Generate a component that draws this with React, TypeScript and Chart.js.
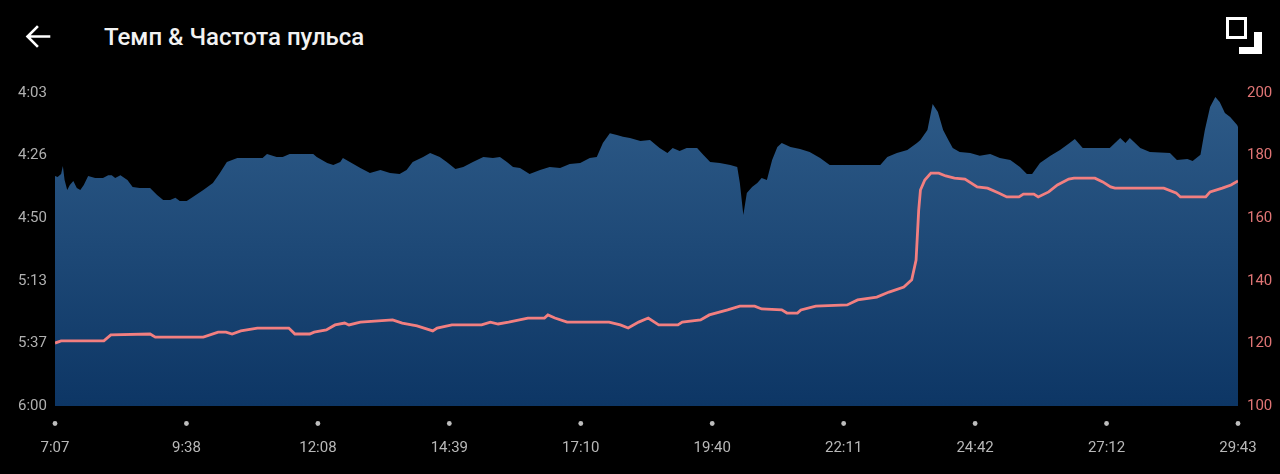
import React, { useEffect, useRef } from "react";
import { Chart, registerables } from "chart.js";

Chart.register(...registerables);

// Elapsed time (seconds) axis
const X_MIN = 427;
const X_MAX = 1783;
const X_TICK_VALUES = [427, 577.67, 728.33, 879, 1029.67, 1180.33, 1331, 1481.67, 1632.33, 1783];
const X_TICK_LABELS = ["7:07", "9:38", "12:08", "14:39", "17:10", "19:40", "22:11", "24:42", "27:12", "29:43"];

// Pace axis (seconds per km), reversed
const PACE_MIN = 243;
const PACE_MAX = 360;
const PACE_TICK_VALUES = [243, 266.4, 289.8, 313.2, 336.6, 360];
const PACE_TICK_LABELS = ["4:03", "4:26", "4:50", "5:13", "5:37", "6:00"];

// Heart-rate axis
const HR_MIN = 100;
const HR_MAX = 200;
const HR_TICK_VALUES = [100, 120, 140, 160, 180, 200];

// Pace series
const PACE_T = [
  427, 430, 434, 436, 438, 441, 444, 448, 452, 456, 460, 465, 473, 482, 488, 492, 496, 502, 510, 516,
  524, 536, 544, 551, 559, 565, 570, 578, 585, 597, 608, 616, 624, 636, 665, 670, 681, 688, 696, 723,
  727, 739, 746, 754, 757, 765, 777, 788, 800, 811, 822, 830, 837, 849, 857, 868, 876, 886, 895, 906,
  918, 929, 937, 945, 952, 960, 971, 983, 994, 1006, 1017, 1029, 1040, 1048, 1055, 1063, 1071, 1078, 1086, 1098,
  1109, 1120, 1129, 1135, 1143, 1151, 1163, 1170, 1178, 1189, 1201, 1209, 1212, 1216, 1220, 1226, 1232, 1237, 1243, 1249,
  1255, 1260, 1270, 1281, 1292, 1304, 1315, 1373, 1381, 1392, 1404, 1415, 1419, 1427, 1433, 1439, 1445, 1451, 1456, 1464,
  1476, 1487, 1499, 1510, 1522, 1533, 1541, 1547, 1556, 1568, 1579, 1590, 1596, 1605, 1636, 1648, 1654, 1659, 1671, 1682,
  1705, 1713, 1725, 1731, 1740, 1745, 1751, 1757, 1762, 1768, 1774, 1782, 1783,
];
const PACE_V = [
  274.0, 274.4, 273.3, 270.3, 275.5, 279.3, 277.4, 275.9, 278.5, 279.3, 277.4, 274.0, 274.8, 274.8, 273.7, 273.7, 274.8, 273.7, 275.5, 278.1,
  278.5, 278.5, 281.1, 283.0, 283.0, 282.2, 283.4, 283.4, 281.9, 279.3, 276.6, 272.9, 268.8, 267.3, 267.3, 265.8, 266.9, 266.9, 265.8, 265.8,
  266.9, 269.2, 269.9, 268.8, 267.3, 268.8, 271.0, 272.9, 271.8, 272.9, 273.3, 271.8, 268.8, 266.9, 265.4, 266.9, 268.8, 271.4, 270.7, 268.8,
  266.9, 267.3, 266.9, 268.8, 270.7, 271.0, 273.3, 271.8, 270.7, 271.0, 269.5, 269.2, 267.3, 266.9, 261.7, 258.0, 258.7, 259.4, 259.8, 260.9,
  260.6, 263.6, 265.4, 263.6, 264.7, 263.6, 263.6, 266.1, 268.8, 269.2, 269.9, 270.7, 276.6, 288.6, 280.4, 278.1, 276.6, 274.8, 275.5, 268.0,
  263.2, 261.7, 263.2, 263.9, 265.1, 267.3, 269.9, 269.9, 266.9, 265.4, 264.3, 261.7, 260.6, 256.8, 247.1, 250.1, 256.8, 260.6, 263.6, 265.1,
  265.4, 266.5, 265.8, 267.3, 268.0, 270.7, 273.3, 273.3, 269.2, 266.5, 264.3, 261.7, 260.2, 263.6, 263.6, 259.8, 261.7, 259.8, 263.6, 265.1,
  265.4, 268.0, 267.7, 268.4, 266.1, 256.8, 248.2, 244.5, 246.4, 250.5, 252.0, 255.0, 255.7,
];

// Heart-rate series
const HR_T = [
  427, 434, 483, 491, 536, 542, 597, 614, 623, 630, 640, 659, 695, 702, 719, 724, 738, 748, 759, 764,
  777, 814, 825, 842, 860, 865, 882, 916, 926, 935, 947, 969, 988, 992, 1000, 1014, 1062, 1075, 1084, 1096,
  1107, 1119, 1141, 1146, 1167, 1177, 1198, 1212, 1229, 1237, 1260, 1266, 1278, 1282, 1299, 1335, 1347, 1369, 1383, 1400,
  1409, 1414, 1417, 1419, 1424, 1431, 1440, 1448, 1458, 1470, 1484, 1496, 1508, 1518, 1532, 1537, 1549, 1554, 1566, 1576,
  1589, 1595, 1619, 1628, 1637, 1642, 1698, 1712, 1717, 1746, 1751, 1765, 1775, 1783,
];
const HR_V = [
  120.1, 120.8, 120.8, 122.7, 123.0, 122.0, 122.0, 123.6, 123.6, 123.0, 124.0, 124.9, 124.9, 123.0, 123.0, 123.6, 124.3, 125.9, 126.5, 125.9,
  126.8, 127.5, 126.5, 125.6, 124.0, 124.9, 125.9, 125.9, 126.8, 126.2, 126.8, 128.1, 128.1, 129.1, 128.1, 126.8, 126.8, 125.9, 124.9, 126.8,
  128.1, 125.9, 125.9, 126.8, 127.5, 129.1, 130.7, 131.9, 131.9, 131.0, 130.7, 129.7, 129.7, 130.7, 131.9, 132.3, 133.9, 134.8, 136.4, 138.0,
  140.3, 146.6, 162.6, 169.0, 172.2, 174.4, 174.4, 173.5, 172.8, 172.5, 170.0, 169.6, 168.1, 166.8, 166.8, 167.7, 167.7, 166.8, 168.4, 170.6,
  172.5, 172.8, 172.8, 171.6, 170.0, 169.6, 169.6, 168.1, 166.8, 166.8, 168.4, 169.6, 170.6, 171.9,
];

const TITLE = "Темп & Частота пульса";

const fmtFromList = (values: number[], labels: string[]) => (v: number | string) => {
  const n = Number(v);
  const i = values.findIndex((x) => Math.abs(x - n) < 0.01);
  return i >= 0 ? labels[i] : "";
};

export default function App() {
  const ref = useRef<HTMLCanvasElement>(null);

  useEffect(() => {
    document.body.style.margin = "0";
    document.body.style.background = "#000";
    const canvas = ref.current;
    if (!canvas) return;

    const dotPlugin = {
      id: "tickDots",
      afterDraw(chart: any) {
        const xs = chart.scales.x;
        const ctx = chart.ctx;
        ctx.save();
        ctx.fillStyle = "#bdbdbd";
        X_TICK_VALUES.forEach((v) => {
          const px = xs.getPixelForValue(v);
          ctx.beginPath();
          ctx.arc(px, chart.chartArea.bottom + 17.5, 2.4, 0, Math.PI * 2);
          ctx.fill();
        });
        ctx.restore();
      },
    };

    const chart = new Chart(canvas, {
      type: "line",
      data: {
        datasets: [
          {
            label: "Частота пульса",
            data: HR_T.map((t, i) => ({ x: t, y: HR_V[i] })),
            yAxisID: "yHr",
            borderColor: "#f27f80",
            borderWidth: 2.8,
            pointRadius: 0,
            fill: false,
            tension: 0,
            order: 0,
          },
          {
            label: "Темп",
            data: PACE_T.map((t, i) => ({ x: t, y: PACE_V[i] })),
            yAxisID: "yPace",
            borderWidth: 0,
            borderColor: "rgba(0,0,0,0)",
            pointRadius: 0,
            tension: 0,
            fill: { value: PACE_MAX },
            backgroundColor: (c: any) => {
              const a = c.chart.chartArea;
              if (!a) return "#1e4a7a";
              const g = c.chart.ctx.createLinearGradient(0, a.top, 0, a.bottom);
              g.addColorStop(0, "#2e5b88");
              g.addColorStop(1, "#0d3665");
              return g;
            },
            order: 1,
          },
        ],
      },
      options: {
        responsive: false,
        animation: false,
        devicePixelRatio: 1,
        layout: { padding: { left: 18, top: 93, right: 0, bottom: 0 } },
        plugins: { legend: { display: false }, tooltip: { enabled: false } },
        scales: {
          x: {
            type: "linear",
            min: X_MIN,
            max: X_MAX,
            afterBuildTicks: (axis: any) => {
              axis.ticks = X_TICK_VALUES.map((v) => ({ value: v }));
            },
            afterFit: (axis: any) => {
              axis.height = 68;
            },
            grid: { display: false, drawTicks: true, tickLength: 31 },
            border: { display: false },
            ticks: {
              autoSkip: false,
              maxRotation: 0,
              padding: 2,
              color: "#b8b8b8",
              font: { family: "Roboto", size: 15 },
              callback: fmtFromList(X_TICK_VALUES, X_TICK_LABELS),
            },
          },
          yPace: {
            position: "left",
            reverse: true,
            min: PACE_MIN,
            max: PACE_MAX,
            afterBuildTicks: (axis: any) => {
              axis.ticks = PACE_TICK_VALUES.map((v) => ({ value: v }));
            },
            afterFit: (axis: any) => {
              axis.width = 37;
            },
            grid: { display: false, drawTicks: false },
            border: { display: false },
            ticks: {
              crossAlign: "far",
              color: "#b0b0b0",
              font: { family: "Roboto", size: 15 },
              callback: fmtFromList(PACE_TICK_VALUES, PACE_TICK_LABELS),
            },
          },
          yHr: {
            position: "right",
            min: HR_MIN,
            max: HR_MAX,
            afterBuildTicks: (axis: any) => {
              axis.ticks = HR_TICK_VALUES.map((v) => ({ value: v }));
            },
            afterFit: (axis: any) => {
              axis.width = 42;
            },
            grid: { display: false, drawTicks: false },
            border: { display: false },
            ticks: {
              padding: 9,
              color: "#e07575",
              font: { family: "Roboto", size: 15 },
              callback: (v: any) => String(v),
            },
          },
        },
      },
      plugins: [dotPlugin],
    } as any);

    return () => chart.destroy();
  }, []);

  return (
    <div style={{ position: "fixed", left: 0, top: 0, width: 1280, height: 474, background: "#000", overflow: "hidden" }}>
      <svg width={1280} height={80} style={{ position: "absolute", left: 0, top: 0 }}>
        <path d="M49 36.5 H28 M37 27 L27.5 36.5 L37 46" stroke="#fff" strokeWidth={2.6} fill="none" strokeLinecap="square" />
        <rect x={1227.5} y={18.5} width={18} height={19} stroke="#fff" strokeWidth={3} fill="none" />
        <path d="M1254 32 H1262 V54 H1239 V47 H1254 Z" fill="#fff" />
      </svg>
      <div
        style={{
          position: "absolute",
          left: 104,
          top: 24,
          color: "#f2f2f2",
          fontFamily: "Roboto",
          fontWeight: 500,
          fontSize: 24,
          lineHeight: "26px",
          whiteSpace: "nowrap",
        }}
      >
        {TITLE}
      </div>
      <canvas ref={ref} width={1280} height={474} style={{ position: "absolute", left: 0, top: 0 }} />
    </div>
  );
}
